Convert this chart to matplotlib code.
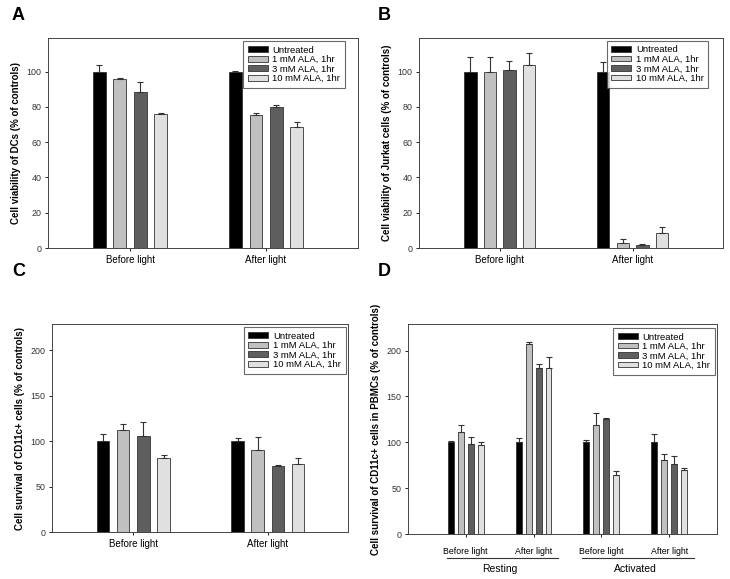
import numpy as np
import matplotlib
matplotlib.use('Agg')
import matplotlib.pyplot as plt

plt.rcParams['font.family'] = ['Liberation Sans', 'DejaVu Sans']

# series names and colours
labels = ['Untreated', '1 mM ALA, 1hr', '3 mM ALA, 1hr', '10 mM ALA, 1hr']
colors = ['#000000', '#c0c0c0', '#5e5e5e', '#e0e0e0']
groups_ab = ['Before light', 'After light']

# A: cell viability of DCs  (rows = series, cols = groups)
a_vals = [[100, 100], [95.6, 75.4], [88.4, 80.1], [75.8, 68.8]]
a_errs = [[3.8, 0.4], [0.6, 1.3], [5.4, 1.0], [0.9, 2.7]]

# B: cell viability of Jurkat cells
b_vals = [[100, 100], [100, 2.8], [100.6, 1.5], [103.6, 8.5]]
b_errs = [[8.1, 5.3], [8.1, 2.3], [5.6, 1.0], [6.8, 3.2]]

# C: survival of CD11c+ cells
c_vals = [[100, 100], [112.7, 90.6], [106, 72.3], [81.5, 75.2]]
c_errs = [[7.9, 4.0], [6.2, 14.4], [15.1, 1.1], [3.3, 5.9]]

# D: survival of CD11c+ cells in PBMCs
d_groups = ['Before light', 'After light', 'Before light', 'After light']
d_vals = [[100, 100, 100, 100], [111.1, 207.5, 118.8, 80.5],
          [98.4, 180.7, 125, 76.5], [97.3, 181, 64.5, 69.6]]
d_errs = [[1.6, 4.2, 2.4, 8.9], [7.3, 2.1, 13.1, 6.9],
          [7.2, 4.7, 1.0, 9.1], [2.5, 12.4, 4.4, 2.2]]
d_supergroups = ['Resting', 'Activated']

W, H = 730, 579
fig = plt.figure(figsize=(W/100, H/100), dpi=100)

def add_ax(l, t, r, b):
    return fig.add_axes([l/W, 1-b/H, (r-l)/W, (b-t)/H])

def draw_panel(ax, vals, errs, groups, spacing, width, xlim, ylim, yticks, ylabel, leg_anchor):
    x = np.arange(len(groups))
    offs = (np.arange(4) - 1.5) * spacing
    for i in range(4):
        ax.bar(x + offs[i], vals[i], width, color=colors[i], edgecolor='#333333',
               linewidth=0.6, label=labels[i], zorder=2)
        ax.errorbar(x + offs[i], vals[i], yerr=[np.zeros(len(groups)), errs[i]],
                    fmt='none', ecolor='#333333', elinewidth=0.8, capsize=2.5,
                    capthick=0.8, zorder=3)
    ax.set_xlim(*xlim)
    ax.set_ylim(*ylim)
    ax.set_yticks(yticks)
    ax.set_xticks(x)
    ax.set_xticklabels(groups, fontsize=7)
    ax.tick_params(axis='y', labelsize=6.4, length=2.5, width=0.6, pad=2, labelcolor='#333333')
    ax.tick_params(axis='x', length=2, width=0.6, pad=3)
    for s in ax.spines.values():
        s.set_linewidth(0.7)
        s.set_color('#444444')
    ax.set_ylabel(ylabel, fontsize=7, fontweight='bold', labelpad=4)
    leg = ax.legend(loc='upper right', bbox_to_anchor=leg_anchor, fontsize=6.8,
                    frameon=True, fancybox=False, edgecolor='#444444',
                    handlelength=2.1, handleheight=0.55, labelspacing=0.05,
                    handletextpad=0.5, borderpad=0.5, borderaxespad=0)
    leg.get_frame().set_linewidth(0.8)

axA = add_ax(48, 38, 358, 248)
draw_panel(axA, a_vals, a_errs, groups_ab, 0.15, 0.093, (-0.603, 1.676), (0, 119),
           [0, 20, 40, 60, 80, 100], 'Cell viability of DCs (% of controls)', (0.958, 0.986))

axB = add_ax(419, 38, 723, 248)
draw_panel(axB, b_vals, b_errs, groups_ab, 0.147, 0.093, (-0.607, 1.68), (0, 119),
           [0, 20, 40, 60, 80, 100], 'Cell viability of Jurkat cells (% of controls)',
           (0.952, 0.987))

axC = add_ax(52, 324, 348, 532)
draw_panel(axC, c_vals, c_errs, groups_ab, 0.15, 0.093, (-0.604, 1.596), (0, 229),
           [0, 50, 100, 150, 200], 'Cell survival of CD11c+ cells (% of controls)',
           (0.992, 0.986))

axD = add_ax(408, 324, 717, 534)
draw_panel(axD, d_vals, d_errs, d_groups, 0.147, 0.088, (-0.847, 3.70), (0, 229),
           [0, 50, 100, 150, 200], 'Cell survival of CD11c+ cells in PBMCs (% of controls)',
           (0.9935, 0.982))
axD.tick_params(axis='x', labelsize=6.3, pad=7)

# supergroup lines and labels under panel D
for k, name in enumerate(d_supergroups):
    x0, x1 = 2*k - 0.28, 2*k + 1.36
    axD.plot([x0, x1], [-0.113, -0.113], color='#333333', lw=0.8,
             transform=axD.get_xaxis_transform(), clip_on=False)
    axD.text(2*k + 0.5, -0.168, name, transform=axD.get_xaxis_transform(),
             ha='center', va='center', fontsize=7.5)

# panel letters
for letter, (px, py) in zip('ABCD', [(12, 16), (378, 16), (12, 272), (378, 272)]):
    fig.text(px/W, 1-py/H, letter, fontsize=13, fontweight='bold', ha='left', va='center')

fig.savefig('out.png', dpi=100)
